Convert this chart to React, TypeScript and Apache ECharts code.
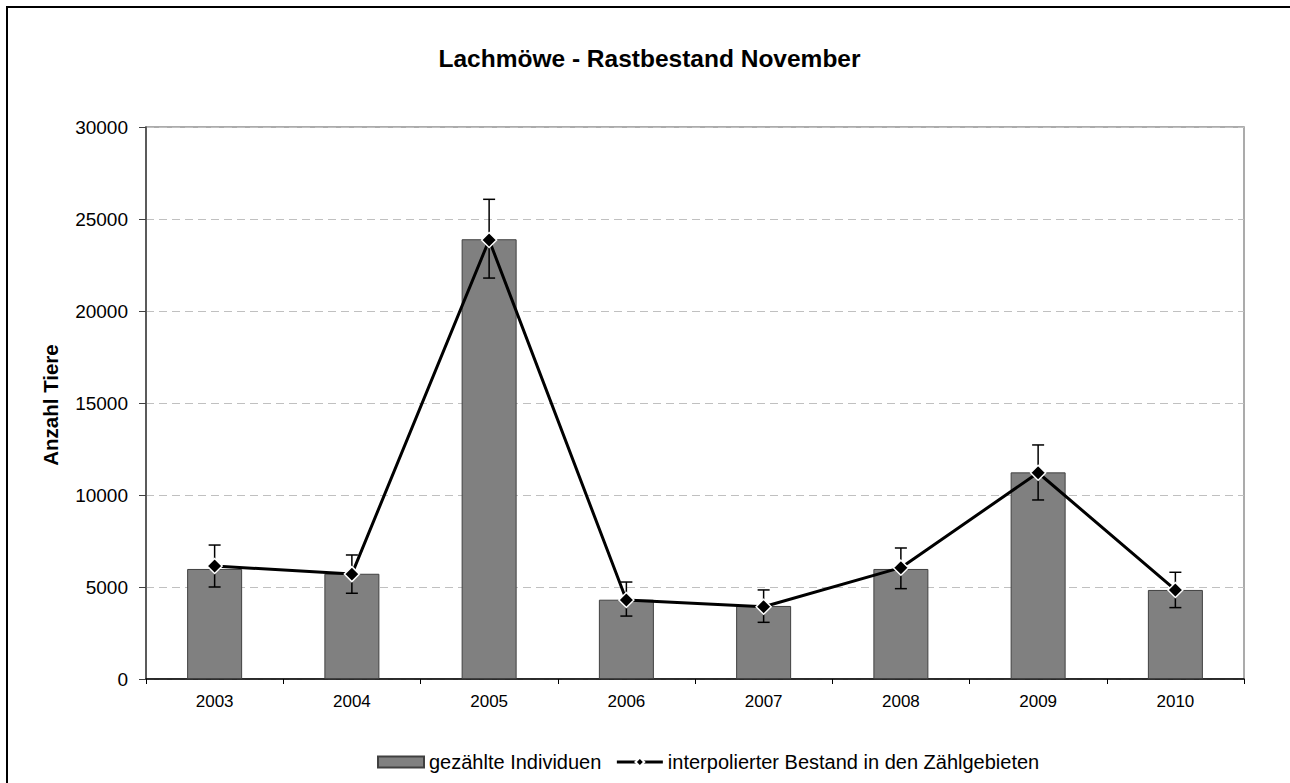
import React, { useEffect, useRef } from "react";
import * as echarts from "echarts";

const years = ["2003", "2004", "2005", "2006", "2007", "2008", "2009", "2010"];
const counted = [5980, 5720, 23900, 4310, 3970, 5980, 11230, 4840];
const interpolated = [6140, 5700, 23860, 4290, 3930, 6050, 11210, 4840];
const errLow = [5000, 4660, 21790, 3420, 3080, 4910, 9730, 3880];
const errHigh = [7280, 6740, 26070, 5270, 4840, 7120, 12720, 5800];

const FONT = "'Liberation Sans', Arial, sans-serif";

export default function App() {
  const ref = useRef<HTMLDivElement>(null);
  useEffect(() => {
    if (!ref.current) return;
    const chart = echarts.init(ref.current, undefined, { renderer: "svg" });
    const errData = years.map((_, i) => [i, errLow[i], errHigh[i]]);
    chart.setOption({
      animation: false,
      backgroundColor: "#ffffff",
      textStyle: { fontFamily: FONT },
      graphic: [
        {
          type: "rect",
          shape: { x: 7, y: 7, width: 1400, height: 900 },
          style: { fill: "none", stroke: "#000", lineWidth: 2 },
          silent: true,
        },
        {
          type: "text",
          x: 649.5,
          y: 58,
          style: {
            text: "Lachmöwe - Rastbestand November",
            fontFamily: FONT,
            fontSize: 24.5,
            fontWeight: "bold",
            fill: "#000",
            align: "center",
            verticalAlign: "middle",
          },
        },
        {
          type: "text",
          x: 50,
          y: 405,
          rotation: Math.PI / 2,
          style: {
            text: "Anzahl Tiere",
            fontFamily: FONT,
            fontSize: 20.5,
            fontWeight: "bold",
            fill: "#000",
            align: "center",
            verticalAlign: "middle",
          },
        },
      ],
      legend: {
        top: 747,
        left: 372,
        itemGap: 14,
        itemWidth: 46,
        itemHeight: 11,
        textStyle: { fontFamily: FONT, fontSize: 20, color: "#000" },
        data: [
          { name: "gezählte Individuen", icon: "rect" },
          { name: "interpolierter Bestand in den Zählgebieten", lineStyle: { width: 3, color: "#000" } },
        ],
      },
      grid: {
        left: 146,
        top: 127,
        right: 46,
        bottom: 104,
        show: true,
        borderColor: "#909090",
        borderWidth: 1.5,
        backgroundColor: "transparent",
      },
      xAxis: {
        type: "category",
        data: years,
        boundaryGap: true,
        axisLine: { lineStyle: { color: "#000", width: 1.5 } },
        axisTick: { show: true, length: 5, lineStyle: { color: "#000", width: 1 } },
        axisLabel: { margin: 14, fontFamily: FONT, fontSize: 17, color: "#000" },
        splitLine: { show: false },
      },
      yAxis: {
        type: "value",
        min: 0,
        max: 30000,
        interval: 5000,
        axisLine: { show: true, lineStyle: { color: "#404040", width: 1.5 } },
        axisTick: { show: true, length: 7, lineStyle: { color: "#404040", width: 1 } },
        axisLabel: {
          margin: 18,
          fontFamily: FONT,
          fontSize: 19,
          color: "#000",
          formatter: (v: number) => String(v),
        },
        splitLine: { show: true, lineStyle: { color: "#c0c0c0", type: [8, 5], width: 1 } },
      },
      series: [
        {
          name: "gezählte Individuen",
          type: "bar",
          data: counted,
          barWidth: 55,
          itemStyle: { color: "#808080", borderColor: "#404040", borderWidth: 1 },
          z: 2,
        },
        {
          name: "errorbars",
          type: "custom",
          data: errData,
          encode: { x: 0, y: [1, 2] },
          z: 3,
          renderItem: (params: any, api: any) => {
            const idx = api.value(0);
            const lo = api.coord([idx, api.value(1)]);
            const hi = api.coord([idx, api.value(2)]);
            const cap = 6;
            const style = { stroke: "#000", lineWidth: 1.5 };
            return {
              type: "group",
              children: [
                { type: "line", shape: { x1: hi[0], y1: hi[1], x2: lo[0], y2: lo[1] }, style },
                { type: "line", shape: { x1: hi[0] - cap, y1: hi[1], x2: hi[0] + cap, y2: hi[1] }, style },
                { type: "line", shape: { x1: lo[0] - cap, y1: lo[1], x2: lo[0] + cap, y2: lo[1] }, style },
              ],
            };
          },
        },
        {
          name: "interpolierter Bestand in den Zählgebieten",
          type: "line",
          data: interpolated,
          symbol: "diamond",
          symbolSize: 15,
          lineStyle: { color: "#000", width: 3 },
          itemStyle: { color: "#000", borderColor: "#fff", borderWidth: 1.5 },
          z: 4,
        },
      ],
    });
    return () => chart.dispose();
  }, []);
  return (
    <div
      ref={ref}
      style={{ position: "absolute", left: 0, top: 0, width: 1290, height: 783 }}
    />
  );
}
